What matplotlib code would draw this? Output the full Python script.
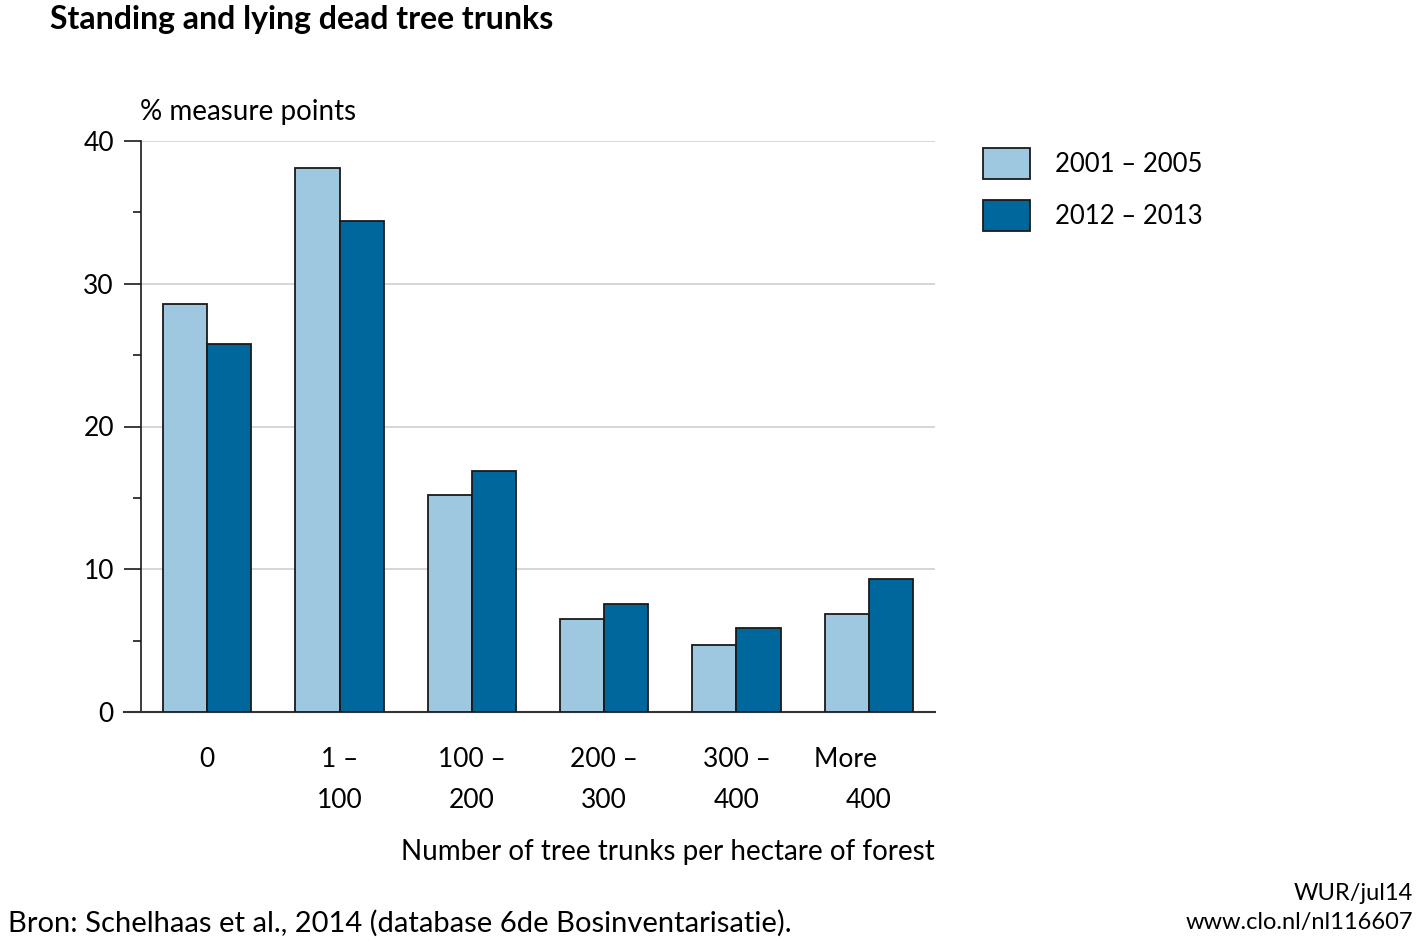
import matplotlib
matplotlib.use("Agg")
import matplotlib.pyplot as plt
import numpy as np

plt.rcParams['font.family'] = ['Lato', 'DejaVu Sans']

categories = ["0", "1 –\n100", "100 –\n200", "200 –\n300", "300 –\n400", "More       \n400"]
series_names = ["2001 – 2005", "2012 – 2013"]
values_2001_2005 = [28.6, 38.1, 15.2, 6.5, 4.7, 6.9]
values_2012_2013 = [25.8, 34.4, 16.9, 7.6, 5.9, 9.3]
colors = ["#9dc8e0", "#00679d"]

fig = plt.figure(figsize=(14.22, 9.52), dpi=100)
ax = fig.add_axes([141/1422, 240/952, 794/1422, 571/952])

x = np.arange(len(categories))
w = 0.333
ax.bar(x - w/2, values_2001_2005, w, color=colors[0], edgecolor="#1a1a1a", linewidth=1.3,
       label=series_names[0], zorder=3)
ax.bar(x + w/2, values_2012_2013, w, color=colors[1], edgecolor="#1a1a1a", linewidth=1.3,
       label=series_names[1], zorder=3)

ax.set_xlim(-0.5, 5.5)
ax.set_ylim(0, 40)
ax.set_yticks([0, 10, 20, 30, 40])
ax.set_yticks([5, 15, 25, 35], minor=True)
ax.set_xticks(x)
ax.set_xticklabels(categories, fontsize=19, linespacing=1.8)
ax.tick_params(axis='x', length=0, pad=25)
ax.tick_params(axis='y', which='major', length=12.5, width=1.2, pad=7, labelsize=19, color="#1a1a1a")
ax.tick_params(axis='y', which='minor', length=6, width=1.2, color="#1a1a1a")

for s in ['top', 'right']:
    ax.spines[s].set_visible(False)
ax.spines['left'].set_linewidth(1.2)
ax.spines['bottom'].set_linewidth(1.5)
ax.spines['left'].set_color("#1a1a1a")
ax.spines['bottom'].set_color("#333333")

ax.yaxis.grid(True, color="#d0d0d0", linewidth=1.2, zorder=0)
ax.set_axisbelow(True)

# extend baseline to the left like the reference
ax.plot([-0.5 - 17/132.3, -0.5], [0, 0], color="#333333", lw=1.5, clip_on=False, zorder=4)

fig.text(50/1422, 1 - 19/952, "Standing and lying dead tree trunks", fontsize=23, fontweight='bold',
         ha='left', va='center')
fig.text(140/1422, 1 - 112/952, "% measure points", fontsize=20, ha='left', va='center')
fig.text(935/1422, 1 - 852/952, "Number of tree trunks per hectare of forest", fontsize=20,
         ha='right', va='center')
fig.text(8/1422, 1 - 923/952, "Bron: Schelhaas et al., 2014 (database 6de Bosinventarisatie).",
         fontsize=21, ha='left', va='center')
fig.text(1413/1422, 1 - 893/952, "WUR/jul14", fontsize=17, ha='right', va='center')
fig.text(1413/1422, 1 - 923/952, "www.clo.nl/nl116607", fontsize=17, ha='right', va='center')

leg = fig.legend(loc='upper left', bbox_to_anchor=(960/1422, 1 - 125/952), frameon=False,
                 fontsize=18.5, handlelength=1.83, handleheight=1.45, handletextpad=0.97,
                 labelspacing=0.85, borderpad=0.4)
for p in leg.get_patches():
    p.set_edgecolor("#1a1a1a")

fig.savefig("out.png", dpi=100)
